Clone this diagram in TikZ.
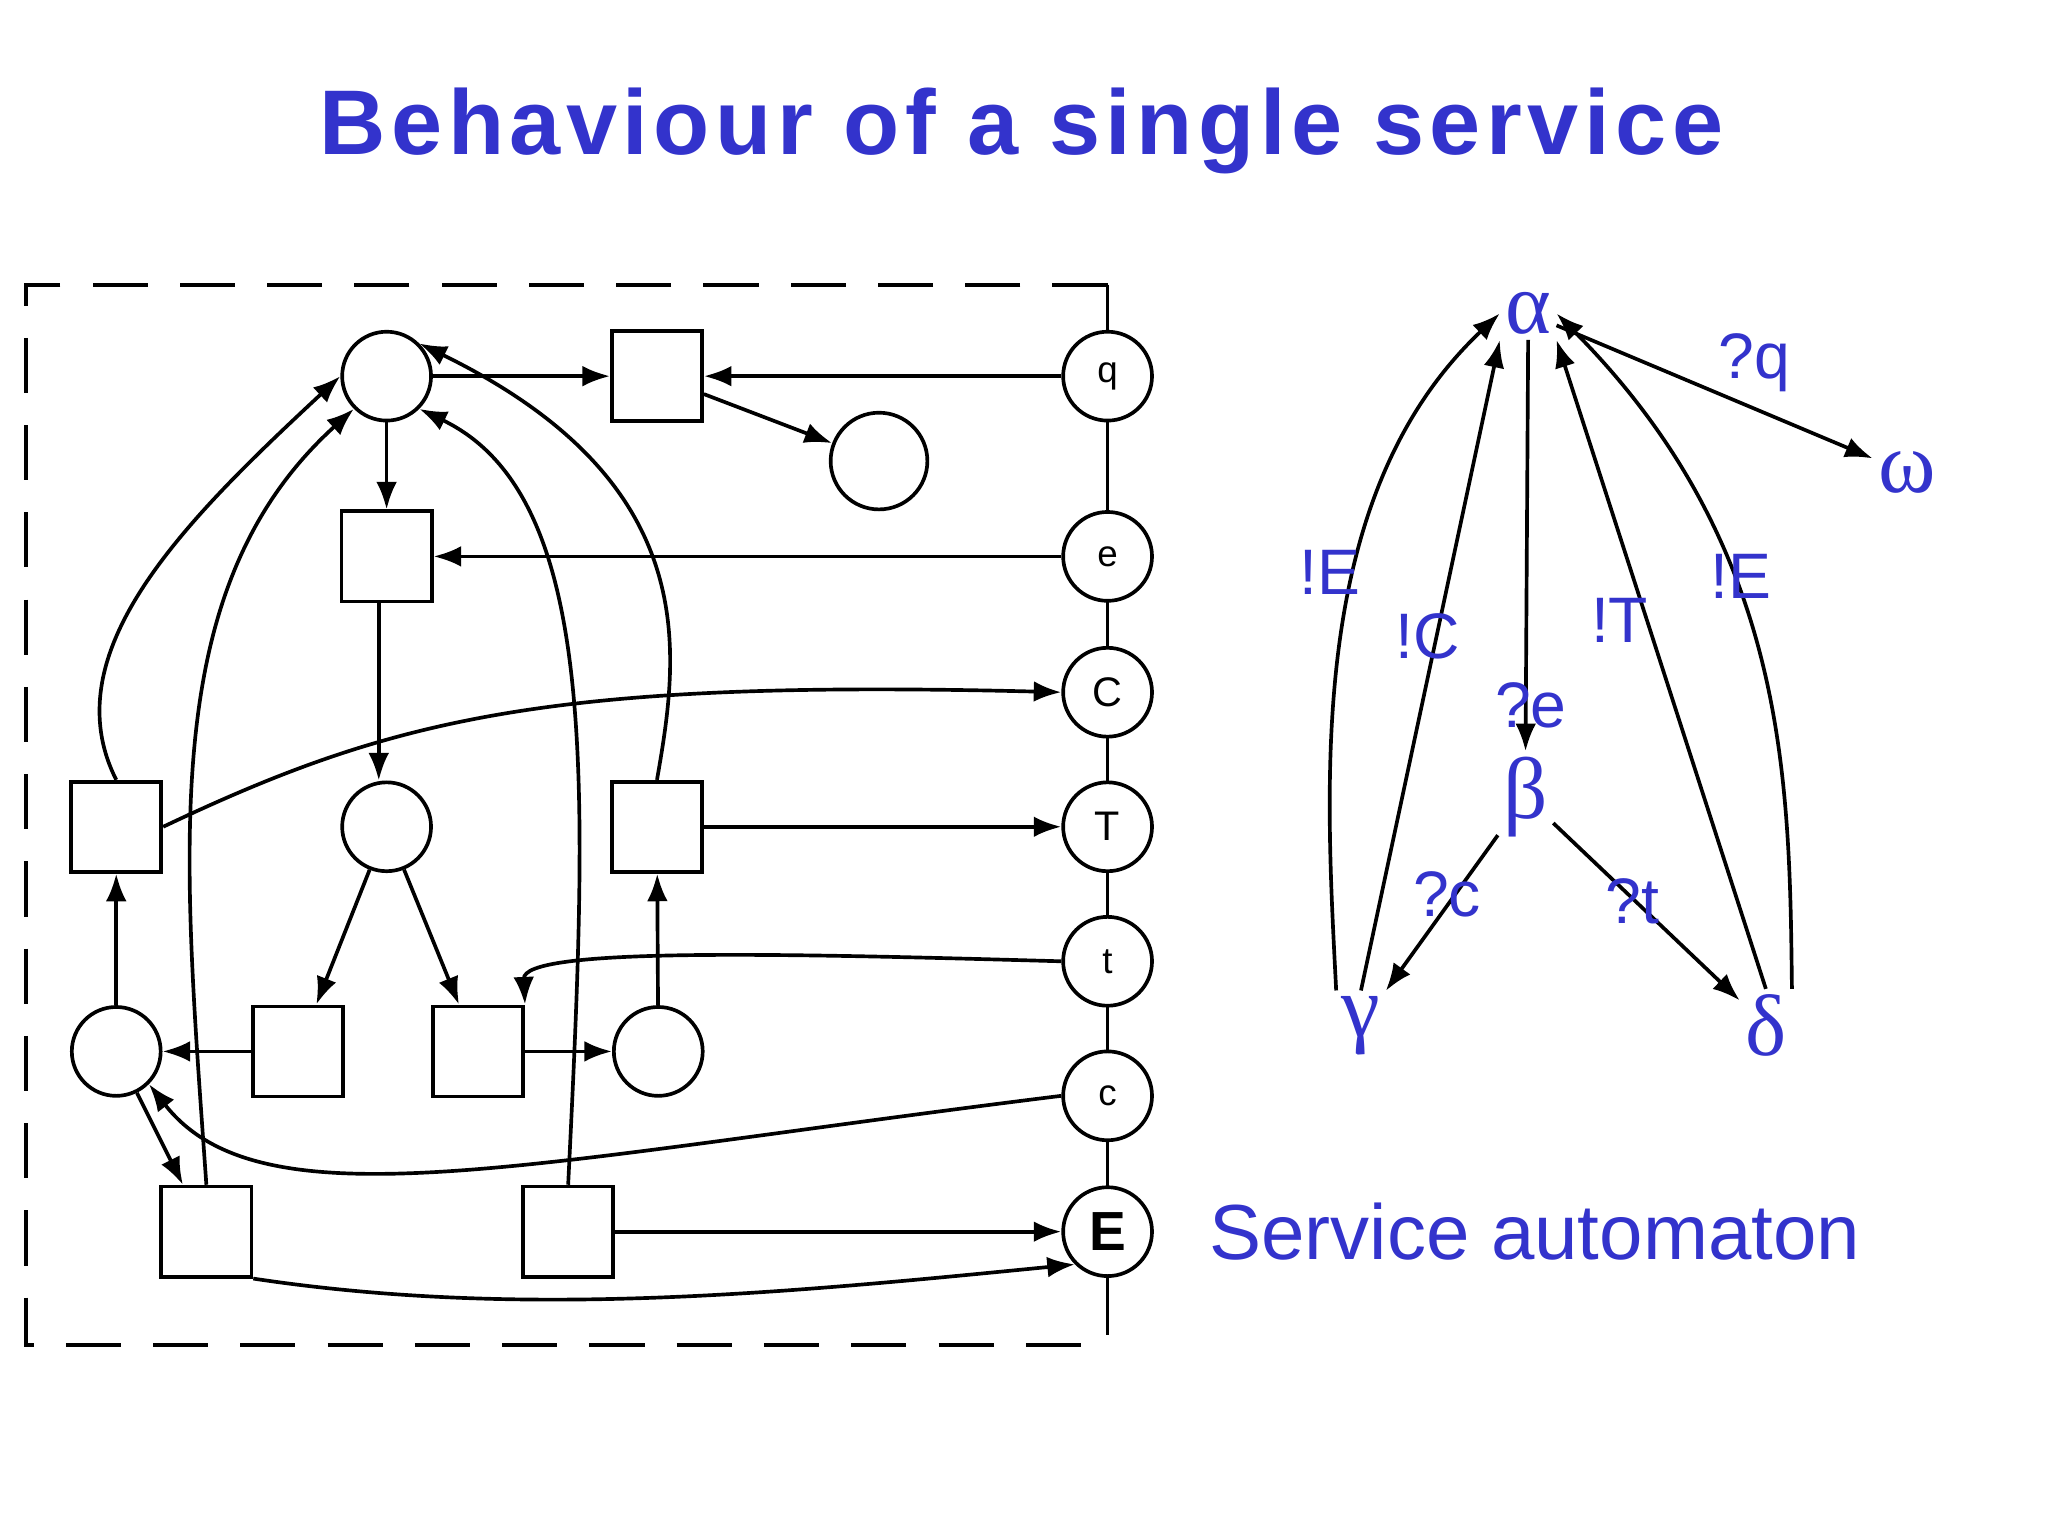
\documentclass[tikz,border=0pt]{standalone}
\usepackage{fontspec}
\setmainfont{Liberation Sans}
\newfontfamily\grk{Liberation Serif}
\usetikzlibrary{arrows.meta}
\definecolor{tb}{RGB}{51,51,204}
\begin{document}
\begin{tikzpicture}[x=0.01cm,y=-0.01cm,
  pl/.style={circle,draw,thick,minimum size=0.68cm,inner sep=0pt,fill=white,font=\fontsize{8}{8}\selectfont},
  tr/.style={rectangle,draw,thick,minimum size=0.69cm,inner sep=0pt,fill=white},
  arc/.style={thick,-{Latex[length=6pt,width=4.5pt]}},
  st/.style={text=tb,font=\fontsize{19}{19}\selectfont\grk,inner sep=1pt},
  ed/.style={black,thick,-{Latex[length=6pt,width=4.5pt]}},
  lb/.style={text=tb,font=\fontsize{14}{14}\selectfont,inner sep=0pt}]
\useasboundingbox (0,0) rectangle (1568,1176);
\node[text=tb,font=\fontsize{20}{20}\selectfont\bfseries] (title) at (782,100) {\addfontfeature{LetterSpace=6}Behaviour of a single service};
% frame
\draw[thick,dash pattern=on 12pt off 7pt] (848,218) -- (20,218) -- (20,1030) -- (848,1030);
\draw[thick] (848,218) -- (848,1022);
% interface places
\node[pl] (q) at (848,288) {q};
\node[pl] (e) at (848,426) {e};
\node[pl,font=\fontsize{9}{9}\selectfont] (C) at (848,530) {C};
\node[pl,font=\fontsize{9}{9}\selectfont] (T) at (848,633) {T};
\node[pl] (tt) at (848,736) {t};
\node[pl] (c) at (848,839) {c};
\node[pl,font=\fontsize{12}{12}\selectfont\bfseries] (E) at (848,943) {E};
% places
\node[pl] (p1) at (296,288) {};
\node[pl,minimum size=0.74cm] (p2) at (673,353) {};
\node[pl] (p3) at (296,633) {};
\node[pl] (p4) at (89,805) {};
\node[pl] (p5) at (504,805) {};
% transitions
\node[tr] (t1) at (503,288) {};
\node[tr] (t2) at (296,426) {};
\node[tr] (t3) at (89,633) {};
\node[tr] (t4) at (503,633) {};
\node[tr] (t5) at (228,805) {};
\node[tr] (t6) at (366,805) {};
\node[tr] (t7) at (158,943) {};
\node[tr] (t8) at (435,943) {};
% arcs
\draw[arc] (p1) -- (t1);
\draw[arc] (q) -- (t1);
\draw[arc] (t1) -- (p2);
\draw[arc] (p1) -- (t2);
\draw[arc] (e) -- (t2);
\draw[arc] (t2.south -| 290,0) -- (p3.north -| 290,0);
\draw[arc] (p3) -- (t5);
\draw[arc] (p3) -- (t6);
\draw[arc] (tt.west) .. controls (600,730) and (400,725) .. (t6.north east);
\draw[arc] (t6) -- (p5);
\draw[arc] (t5) -- (p4);
\draw[arc] (p5) -- (t4);
\draw[arc] (t4) -- (T);
\draw[arc] (t4.north) .. controls (520,500) and (540,370) .. (p1.north east);
\draw[arc] (t3.north) .. controls (40,500) and (140,400) .. (p1.west);
\draw[arc] (p4) -- (t3);
\draw[arc] (t3.east) .. controls (300,550) and (420,520) .. (C.west);
\draw[arc] (p4) -- (t7);
\draw[arc] (c.west) .. controls (400,890) and (200,940) .. (p4.south east);
\draw[arc] (t7.north) .. controls (140,650) and (120,450) .. (p1.south west);
\draw[arc] (t8.north) .. controls (450,600) and (460,380) .. (p1.south east);
\draw[arc] (t8) -- (E);
\draw[arc] (t7.south east) .. controls (400,1010) and (600,990) .. (E.south west);
% automaton
\node[st] (al) at (1170,240) {α};
\node[st] (om) at (1460,362) {ω};
\node[st] (be) at (1168,610) {β};
\node[st] (ga) at (1042,785) {γ};
\node[st] (de) at (1352,785) {δ};
\draw[ed] (al) -- (om);
\draw[ed] (al.south) -- (be.north);
\draw[ed] (be) -- (ga);
\draw[ed] (be) -- (de);
\draw[ed] (ga.north) -- (al.south west);
\draw[ed] (ga.north west) .. controls (1015,600) and (1000,380) .. (al.west);
\draw[ed] (de.north) -- (al.south east);
\draw[ed] (de.north east) .. controls (1370,600) and (1370,420) .. (al.east);
\node[lb] (lq) at (1343,278) {?q};
\node[lb] (le) at (1172,540) {?e};
\node[lb] (lc) at (1108,685) {?c};
\node[lb] (lt) at (1250,690) {?t};
\node[lb] (lC) at (1093,487) {!C};
\node[lb] (lE1) at (1018,438) {!E};
\node[lb] (lT) at (1240,475) {!T};
\node[lb] (lE2) at (1333,441) {!E};
\node[text=tb,font=\fontsize{17}{17}\selectfont] (sa) at (1175,943) {Service automaton};
\end{tikzpicture}
\end{document}
